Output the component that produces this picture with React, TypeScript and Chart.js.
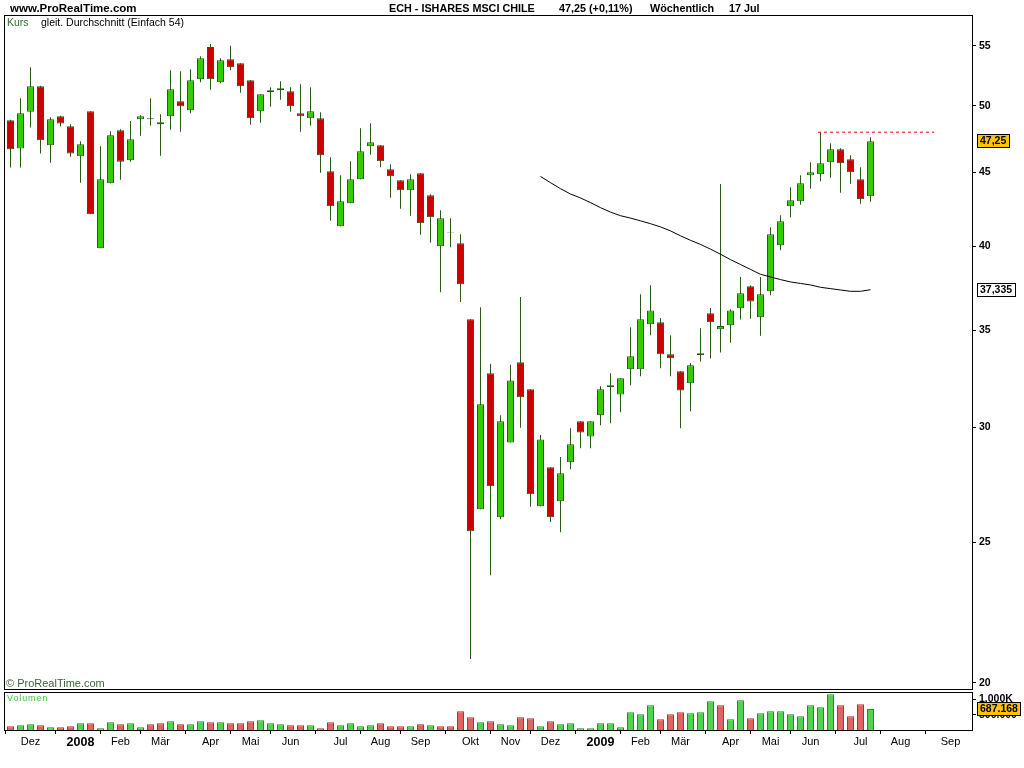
import React, { useEffect, useRef } from 'react';
import { Chart, registerables } from 'chart.js';

Chart.register(...registerables);

// ---- Weekly candles (ECH - iShares MSCI Chile), week index 0 = 19 Nov 2007 ----
const opens = [
  48.86, 46.71, 49.53, 51.57, 46.96, 49.17, 48.39, 46.14, 49.56, 39.88,
  44.21, 48.09, 45.85, 48.93, 49.01, 48.70, 49.17, 50.36, 49.64, 52.15,
  54.89, 51.90, 53.83, 53.49, 52.06, 49.56, 51.24, 51.24, 51.16, 49.40,
  49.01, 49.01, 45.06, 41.29, 42.83, 44.49, 46.88, 46.96, 45.20, 44.42,
  43.72, 44.92, 43.37, 40.00, 40.92, 40.19, 35.63, 26.35, 32.70, 26.02,
  29.30, 33.28, 31.88, 26.48, 28.17, 26.69, 28.39, 30.30, 29.58, 30.59,
  32.08, 31.62, 32.91, 32.91, 35.35, 35.46, 33.70, 32.80, 32.18, 33.65,
  35.97, 35.07, 35.29, 36.25, 37.54, 35.74, 37.24, 40.06, 42.62, 42.96,
  44.77, 44.84, 45.70, 46.66, 45.92, 44.49, 43.31,
];
const highs = [
  48.90, 50.60, 53.15, 51.60, 49.09, 49.20, 48.55, 47.25, 49.56, 46.88,
  48.01, 48.16, 48.80, 49.25, 50.60, 49.32, 52.90, 52.81, 52.98, 54.09,
  55.15, 53.92, 55.00, 53.49, 52.06, 50.92, 51.48, 51.98, 51.48, 51.73,
  51.48, 49.48, 46.07, 44.77, 45.78, 48.24, 48.63, 46.96, 45.56, 44.42,
  44.84, 44.92, 43.44, 42.35, 41.82, 40.77, 35.63, 36.31, 33.19, 30.59,
  33.14, 36.91, 31.88, 29.65, 28.17, 28.63, 29.96, 30.30, 30.30, 32.03,
  32.70, 32.44, 35.18, 37.07, 37.60, 35.69, 34.73, 32.80, 33.23, 35.12,
  36.27, 44.16, 36.19, 38.10, 37.60, 38.10, 41.23, 42.02, 43.93, 44.77,
  45.70, 47.94, 47.10, 46.74, 46.22, 45.34, 47.56,
];
const lows = [
  45.32, 45.32, 48.29, 46.34, 45.68, 48.39, 46.11, 44.25, 42.09, 39.88,
  44.21, 44.46, 45.75, 47.68, 48.44, 46.19, 48.13, 47.98, 49.40, 51.90,
  51.29, 51.81, 52.90, 51.04, 48.52, 48.67, 49.92, 50.48, 49.53, 47.98,
  48.44, 44.96, 41.66, 41.29, 42.83, 44.49, 46.26, 45.34, 43.21, 42.46,
  41.99, 40.74, 40.23, 37.18, 39.94, 36.61, 20.78, 26.35, 23.73, 25.94,
  29.30, 29.99, 26.46, 26.48, 25.82, 25.41, 28.08, 29.03, 29.03, 30.11,
  30.20, 30.74, 32.08, 32.54, 34.73, 32.96, 32.54, 29.96, 30.79, 33.31,
  33.47, 33.79, 34.32, 35.61, 35.66, 34.71, 37.01, 39.75, 41.89, 42.73,
  43.83, 44.35, 44.60, 43.55, 44.18, 42.80, 42.93,
];
const closes = [
  46.66, 49.40, 51.57, 47.33, 48.93, 48.60, 46.34, 47.03, 42.09, 44.49,
  47.71, 45.75, 47.40, 49.17, 48.93, 48.55, 51.32, 49.96, 52.06, 53.92,
  52.15, 53.74, 53.15, 51.57, 49.01, 50.92, 51.08, 51.40, 49.96, 49.17,
  49.56, 46.22, 42.62, 42.96, 44.49, 46.51, 47.18, 45.78, 44.70, 43.72,
  44.49, 41.49, 41.89, 41.82, 40.88, 37.66, 25.45, 31.13, 27.33, 30.30,
  32.33, 31.48, 26.99, 29.44, 26.02, 27.90, 29.21, 29.77, 30.30, 31.88,
  31.98, 32.44, 33.60, 35.63, 36.13, 33.70, 33.49, 31.82, 33.12, 33.75,
  35.46, 35.24, 36.13, 37.12, 36.65, 37.07, 40.77, 41.62, 43.03, 44.21,
  44.99, 45.63, 46.66, 45.63, 44.99, 43.10, 47.25,
];
const volumes = [
  120000, 153000, 186000, 153000, 88000, 88000, 120000, 218000, 218000, 55000,
  251000, 186000, 218000, 88000, 186000, 218000, 283000, 186000, 186000, 283000,
  251000, 251000, 218000, 218000, 283000, 316000, 218000, 186000, 153000, 153000,
  153000, 55000, 251000, 153000, 218000, 120000, 153000, 218000, 120000, 120000,
  120000, 186000, 153000, 120000, 120000, 609000, 414000, 251000, 283000, 186000,
  153000, 414000, 381000, 120000, 283000, 186000, 218000, 55000, 55000, 218000,
  218000, 88000, 576000, 511000, 804000, 348000, 511000, 576000, 544000, 576000,
  935000, 804000, 348000, 967000, 381000, 544000, 609000, 609000, 511000, 446000,
  804000, 739000, 1163000, 804000, 446000, 837000, 687168,
];

// gleit. Durchschnitt (Einfach 54) — starts at week index 53
const maStart = 53;
const maValues = [
  44.69, 44.25, 43.83, 43.46, 43.19, 42.87, 42.53, 42.23, 41.99, 41.83,
  41.65, 41.46, 41.25, 40.99, 40.67, 40.38, 40.12, 39.82, 39.50, 39.16,
  38.86, 38.56, 38.26, 38.10, 37.94, 37.80, 37.71, 37.62, 37.48, 37.40,
  37.32, 37.24, 37.24, 37.335,
];

const resistanceLevel = 47.94;
const resistanceFrom = 80.75;
const resistanceTo = 92.35;

const priceTicks = [20, 25, 30, 35, 40, 45, 50, 55];
const monthTickIdx = [2, 7, 11, 15, 20, 24, 28, 33, 37, 41, 46, 50, 54, 59, 63, 67, 72, 76, 80, 85, 89, 94];
const monthTickLabels = ['Dez', '2008', 'Feb', 'Mär', 'Apr', 'Mai', 'Jun', 'Jul', 'Aug', 'Sep', 'Okt', 'Nov',
  'Dez', '2009', 'Feb', 'Mär', 'Apr', 'Mai', 'Jun', 'Jul', 'Aug', 'Sep'];
const volumeTicks = [500000, 1000000];
const volumeTickLabels = ['500.000', '1.000K'];

const lastPriceLabel = '47,25';
const lastMaLabel = '37,335';
const lastVolumeLabel = '687.168';

const X_MIN = -0.55;
const X_MAX = 96.15;

const GREEN = '#33cc00';
const RED = '#cc0000';
const EDGE = '#265a16';
const VOL_GREEN = '#52d152';
const VOL_GREEN_EDGE = '#1e8f1e';
const VOL_RED = '#e06464';
const VOL_RED_EDGE = '#a83434';
const YELLOW = '#ffc400';
const FONT = '"Liberation Sans", Arial, sans-serif';

function drawValueBox(ctx: CanvasRenderingContext2D, text: string, cy: number, fill: string) {
  ctx.save();
  ctx.font = `bold 10.5px ${FONT}`;
  const w = Math.ceil(ctx.measureText(text).width) + 6;
  const x = 977;
  const top = Math.round(cy - 7);
  ctx.fillStyle = fill;
  ctx.fillRect(x, top, w, 14);
  ctx.strokeStyle = '#000';
  ctx.lineWidth = 1;
  ctx.strokeRect(x + 0.5, top + 0.5, w - 1, 13);
  ctx.fillStyle = '#000';
  ctx.textAlign = 'left';
  ctx.textBaseline = 'middle';
  ctx.fillText(text, x + 3, top + 7.5);
  ctx.restore();
}

const framePlugin = {
  id: 'frame',
  afterDraw(chart: any) {
    const ctx = chart.ctx as CanvasRenderingContext2D;
    const a = chart.chartArea;
    ctx.save();
    ctx.strokeStyle = '#000';
    ctx.lineWidth = 1;
    ctx.strokeRect(a.left - 0.5, a.top - 0.5, a.right - a.left + 1, a.bottom - a.top + 1);
    ctx.restore();
    const boxes = chart.options.plugins.frame?.boxes || [];
    for (const b of boxes) {
      const cy = chart.scales.y.getPixelForValue(b.value);
      drawValueBox(ctx, b.text, cy, b.fill);
    }
  },
};

function Label(props: { x: number; y: number; size: number; text: string; color?: string; bold?: boolean; spacing?: number }) {
  return (
    <div
      style={{
        position: 'absolute',
        left: props.x,
        top: props.y,
        fontFamily: FONT,
        fontSize: props.size,
        fontWeight: props.bold ? 'bold' : 'normal',
        color: props.color || '#000',
        lineHeight: '12px',
        whiteSpace: 'nowrap',
        letterSpacing: props.spacing ? `${props.spacing}px` : undefined,
      }}
    >
      {props.text}
    </div>
  );
}

export default function App() {
  const priceRef = useRef<HTMLCanvasElement | null>(null);
  const volRef = useRef<HTMLCanvasElement | null>(null);

  useEffect(() => {
    const idx = closes.map((_, i) => i);
    const wickData = idx.map((i) => ({ x: i, y: [lows[i], highs[i]] }));
    const bodyData = idx.map((i) => ({ x: i, y: [opens[i], closes[i]] }));
    const bodyColors = idx.map((i) => (closes[i] >= opens[i] ? GREEN : RED));
    const maData = maValues.map((v, k) => ({ x: maStart + k, y: v }));
    const resData = [
      { x: resistanceFrom, y: resistanceLevel },
      { x: resistanceTo, y: resistanceLevel },
    ];
    const volUp = idx.map((i) => i > 0 && closes[i] >= closes[i - 1]);

    const priceChart = new Chart(priceRef.current as HTMLCanvasElement, {
      type: 'bar',
      data: {
        datasets: [
          {
            type: 'line',
            data: resData as any,
            borderColor: '#ff0000',
            borderWidth: 1,
            borderDash: [3, 3],
            pointRadius: 0,
            order: 0,
          } as any,
          {
            type: 'line',
            data: maData as any,
            borderColor: '#000000',
            borderWidth: 1,
            pointRadius: 0,
            tension: 0,
            order: 0,
          } as any,
          {
            type: 'bar',
            data: bodyData as any,
            backgroundColor: bodyColors,
            borderColor: EDGE,
            borderWidth: 1,
            borderSkipped: false,
            barThickness: 7,
            grouped: false,
            inflateAmount: 0,
            order: 1,
          } as any,
          {
            type: 'bar',
            data: wickData as any,
            backgroundColor: EDGE,
            borderWidth: 0,
            barThickness: 1,
            grouped: false,
            inflateAmount: 0,
            order: 2,
          } as any,
        ],
      },
      options: {
        animation: false,
        responsive: false,
        maintainAspectRatio: false,
        events: [],
        layout: { padding: { left: 5, top: 16, right: 0, bottom: 1 } },
        plugins: {
          legend: { display: false },
          tooltip: { enabled: false },
          frame: {
            boxes: [
              { value: 47.25, text: lastPriceLabel, fill: YELLOW },
              { value: 37.335, text: lastMaLabel, fill: '#ffffff' },
            ],
          },
        } as any,
        scales: {
          x: {
            type: 'linear',
            min: X_MIN,
            max: X_MAX,
            offset: false,
            display: false,
          },
          y: {
            type: 'logarithmic',
            position: 'right',
            min: 19.81,
            max: 57.65,
            afterFit: (s: any) => {
              s.width = 52;
              s.paddingTop = 0;
              s.paddingBottom = 0;
            },
            afterBuildTicks: (s: any) => {
              s.ticks = priceTicks.map((v) => ({ value: v }));
            },
            ticks: {
              autoSkip: false,
              padding: 3,
              color: '#000',
              font: { family: FONT, size: 10.5, weight: 'bold' },
              callback: (v: any) => String(v),
            },
            grid: { drawOnChartArea: false, drawTicks: true, tickLength: 4, color: '#000' },
            border: { display: true, color: '#000' },
          } as any,
        },
      },
      plugins: [framePlugin],
    });

    const volChart = new Chart(volRef.current as HTMLCanvasElement, {
      type: 'bar',
      data: {
        datasets: [
          {
            data: idx.map((i) => ({ x: i, y: volumes[i] })) as any,
            backgroundColor: volUp.map((u) => (u ? VOL_GREEN : VOL_RED)),
            borderColor: volUp.map((u) => (u ? VOL_GREEN_EDGE : VOL_RED_EDGE)),
            borderWidth: 1,
            barThickness: 7,
            inflateAmount: 0,
          } as any,
        ],
      },
      options: {
        animation: false,
        responsive: false,
        maintainAspectRatio: false,
        events: [],
        layout: { padding: { left: 5, top: 3, right: 0, bottom: 0 } },
        plugins: {
          legend: { display: false },
          tooltip: { enabled: false },
          frame: { boxes: [{ value: volumes[volumes.length - 1], text: lastVolumeLabel, fill: YELLOW }] },
        } as any,
        scales: {
          x: {
            type: 'linear',
            position: 'bottom',
            min: X_MIN,
            max: X_MAX,
            offset: false,
            afterFit: (s: any) => {
              s.height = 38;
              s.paddingLeft = 0;
              s.paddingRight = 0;
            },
            afterBuildTicks: (s: any) => {
              s.ticks = monthTickIdx.map((v) => ({ value: v }));
            },
            ticks: {
              autoSkip: false,
              maxRotation: 0,
              minRotation: 0,
              padding: 1,
              color: '#000',
              callback: (_v: any, i: number) => monthTickLabels[i],
              font: (c: any) => {
                const l = monthTickLabels[c.index] || '';
                const yr = /^\d{4}$/.test(l);
                return { family: FONT, size: yr ? 12.5 : 11, weight: yr ? 'bold' : 'normal' };
              },
            },
            grid: { drawOnChartArea: false, drawTicks: true, tickLength: 4, color: '#000' },
            border: { display: true, color: '#000' },
          } as any,
          y: {
            type: 'linear',
            position: 'right',
            min: 0,
            max: 1205000,
            afterFit: (s: any) => {
              s.width = 52;
              s.paddingTop = 0;
              s.paddingBottom = 0;
            },
            afterBuildTicks: (s: any) => {
              s.ticks = volumeTicks.map((v) => ({ value: v }));
            },
            ticks: {
              autoSkip: false,
              padding: 3,
              color: '#000',
              font: { family: FONT, size: 10.5, weight: 'bold' },
              callback: (_v: any, i: number) => volumeTickLabels[i],
            },
            grid: { drawOnChartArea: false, drawTicks: true, tickLength: 4, color: '#000' },
            border: { display: true, color: '#000' },
          } as any,
        },
      },
      plugins: [framePlugin],
    });

    return () => {
      priceChart.destroy();
      volChart.destroy();
    };
  }, []);

  return (
    <div
      style={{
        position: 'fixed',
        left: 0,
        top: 0,
        width: 1024,
        height: 768,
        background: '#fff',
        overflow: 'hidden',
      }}
    >
      <canvas ref={priceRef} width={1024} height={690} style={{ position: 'absolute', left: 0, top: 0, width: 1024, height: 690 }} />
      <canvas ref={volRef} width={1024} height={78} style={{ position: 'absolute', left: 0, top: 690, width: 1024, height: 78 }} />
      <Label x={10} y={2} size={11.5} bold text="www.ProRealTime.com" />
      <Label x={389} y={2} size={10.8} bold text="ECH - ISHARES MSCI CHILE" />
      <Label x={559} y={2} size={10.8} bold text="47,25 (+0,11%)" />
      <Label x={650} y={2} size={10.8} bold text="Wöchentlich" />
      <Label x={729} y={2} size={10.8} bold text="17 Jul" />
      <Label x={7} y={16} size={10.5} color="#2f6f2f" text="Kurs" />
      <Label x={41} y={16} size={10.5} text="gleit. Durchschnitt (Einfach 54)" />
      <Label x={6} y={677} size={11} color="#3a5f3a" text="© ProRealTime.com" />
      <Label x={7} y={692} size={9} color="#3ccc3c" spacing={0.9} text="Volumen" />
    </div>
  );
}
